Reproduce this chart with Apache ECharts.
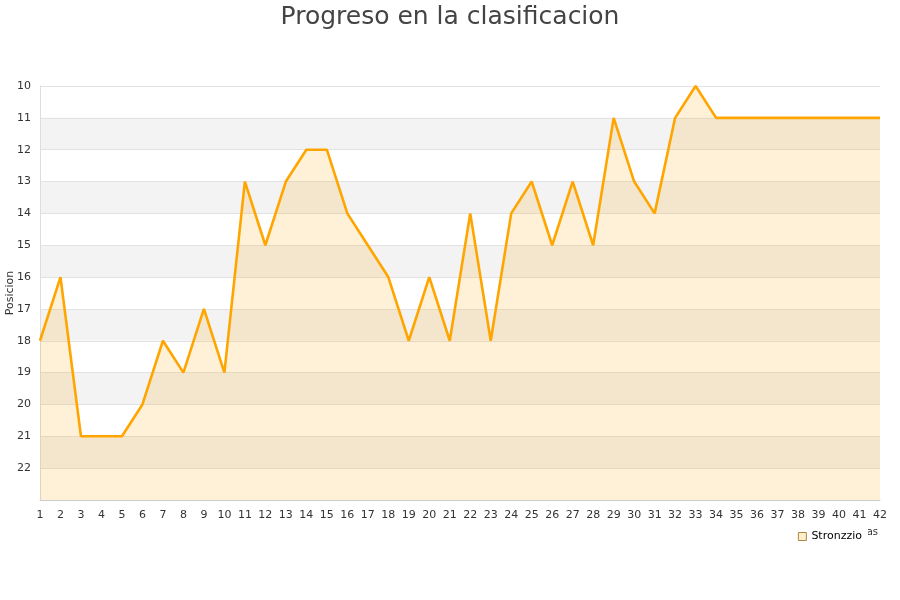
<!DOCTYPE html>
<html>
<head>
<meta charset="utf-8">
<script src="https://cdn.jsdelivr.net/npm/echarts@6/dist/echarts.min.js"></script>
<style>
html, body { margin: 0; padding: 0; background: #fff; }
#chart { width: 900px; height: 600px; }
</style>
</head>
<body>
<div id="chart"></div>
<script>
var jornadas = [];
for (var j = 1; j <= 42; j++) jornadas.push(String(j));
var posiciones = [18, 16, 21, 21, 21, 20, 18, 19, 17, 19,
                  13, 15, 13, 12, 12, 14, 15, 16, 18, 16,
                  18, 14, 18, 14, 13, 15, 13, 15, 11, 13,
                  14, 11, 10, 11, 11, 11, 11, 11, 11, 11,
                  11, 11];
var equipo = 'Stronzzio';

var chart = echarts.init(document.getElementById('chart'));
var option = {
    backgroundColor: '#fff',
    title: {
        text: 'Progreso en la clasificacion',
        left: 'center',
        top: 0,
        textStyle: {
            fontFamily: 'DejaVu Sans',
            fontWeight: 'normal',
            fontSize: 25,
            color: '#444'
        }
    },
    legend: {
        right: 32,
        top: 527,
        icon: 'rect',
        itemWidth: 8,
        itemHeight: 8,
        itemGap: 6,
        backgroundColor: '#fff',
        padding: [4, 6, 4, 4],
        textStyle: { fontFamily: 'DejaVu Sans', fontSize: 11, color: '#000' },
        data: [{ name: equipo, itemStyle: { color: '#ffedcc', borderColor: '#aa8844', borderWidth: 1 } }]
    },
    grid: {
        left: 40,
        right: 20,
        top: 86,
        bottom: 100,
        containLabel: false,
        outerBoundsMode: 'none'
    },
    xAxis: {
        type: 'category',
        boundaryGap: false,
        data: jornadas,
        name: 'Jornadas',
        nameLocation: 'end',
        nameGap: -2,
        nameMoveOverlap: false,
        nameTextStyle: {
            fontFamily: 'DejaVu Sans', fontSize: 10, color: '#333',
            align: 'right', verticalAlign: 'top', padding: [27, 0, 0, 0]
        },
        axisLine: { lineStyle: { color: '#ccc' } },
        axisTick: { show: false },
        axisLabel: { interval: 0, color: '#333', fontFamily: 'DejaVu Sans', fontSize: 11, margin: 10 },
        splitLine: { show: false }
    },
    yAxis: {
        type: 'value',
        inverse: true,
        min: 10,
        max: 23,
        interval: 1,
        name: 'Posicion',
        nameLocation: 'middle',
        nameGap: 24,
        nameMoveOverlap: false,
        nameTextStyle: { fontFamily: 'DejaVu Sans', fontSize: 11, color: '#333' },
        axisLine: { show: true, lineStyle: { color: '#ddd' } },
        axisTick: { show: false },
        axisLabel: {
            color: '#333', fontFamily: 'DejaVu Sans', fontSize: 11, margin: 9,
            formatter: function (v) { return v === 23 ? '' : v; }
        },
        splitLine: { show: true, lineStyle: { color: '#e2e2e2' } },
        splitArea: { show: true, areaStyle: { color: ['#fff', '#f3f3f3'] } }
    },
    series: [{
        name: equipo,
        type: 'line',
        data: posiciones,
        symbol: 'none',
        lineStyle: { color: '#ffa500', width: 2.6 },
        itemStyle: { color: '#ffa500' },
        areaStyle: { origin: 'end', color: 'rgba(255,165,0,0.22)' }
    }]
};
chart.setOption(option);
</script>
</body>
</html>
